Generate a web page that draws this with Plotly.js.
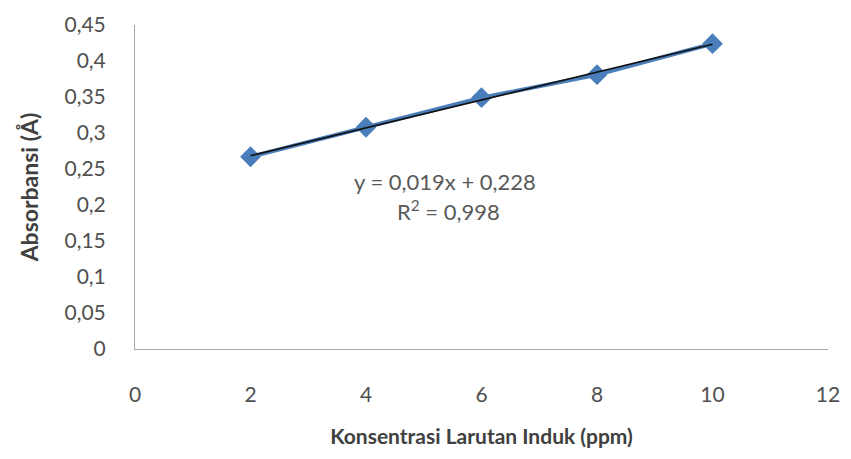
<!DOCTYPE html>
<html>
<head>
<meta charset="utf-8">
<script src="https://cdn.plot.ly/plotly-3.0.1.min.js"></script>
<style>html,body{margin:0;padding:0;background:#fff;}#chart{width:851px;height:459px;}</style>
</head>
<body>
<div id="chart"></div>
<script>
const concentrations = [2, 4, 6, 8, 10];
const absorbances = [0.267, 0.308, 0.349, 0.381, 0.424];
const xTicks = [0, 2, 4, 6, 8, 10, 12];
const yTicks = [0, 0.05, 0.1, 0.15, 0.2, 0.25, 0.3, 0.35, 0.4, 0.45];
const equationText = "y = 0,019x + 0,228";
const r2Text = "R<sup>2</sup> = 0,998";

// least-squares trendline from the data
const n = concentrations.length;
const mx = concentrations.reduce((a,b)=>a+b,0)/n;
const my = absorbances.reduce((a,b)=>a+b,0)/n;
let sxy = 0, sxx = 0;
for (let i = 0; i < n; i++) { sxy += (concentrations[i]-mx)*(absorbances[i]-my); sxx += (concentrations[i]-mx)**2; }
const slope = sxy/sxx, intercept = my - slope*mx;
const trendX = [concentrations[0], concentrations[n-1]];
const trendY = trendX.map(x => slope*x + intercept);

const font = "Lato, 'Open Sans', sans-serif";
const data = [
  {x: concentrations, y: absorbances, type: 'scatter', mode: 'lines+markers',
   line: {color: '#4a7ebb', width: 4},
   marker: {symbol: 'diamond', size: 16, color: '#4a7ebb'}},
  {x: trendX, y: trendY, type: 'scatter', mode: 'lines',
   line: {color: '#111111', width: 1.6}}
];
const layout = {
  width: 851, height: 459,
  margin: {l: 135, r: 23, t: 25, b: 110},
  paper_bgcolor: '#fff', plot_bgcolor: '#fff',
  showlegend: false,
  separators: ',.',
  font: {family: font, color: '#595959', size: 16},
  xaxis: {range: [0, 12], tickvals: xTicks, showgrid: false, zeroline: false,
          showline: true, linecolor: '#a6a6a6', linewidth: 1, ticks: '',
          ticklabelstandoff: 27, tickfont: {size: 21, color: '#505050'},
          title: {text: 'Konsentrasi Larutan Induk (ppm)', font: {size: 21, color: '#404040', family: font, weight: 'bold'}, standoff: 24}},
  yaxis: {range: [0, 0.45], tickvals: yTicks, showgrid: false, zeroline: false,
          showline: true, linecolor: '#a6a6a6', linewidth: 1, ticks: '',
          ticklabelstandoff: 24, tickfont: {size: 21, color: '#505050'},
          title: {text: 'Absorbansi (Å)', font: {size: 23, color: '#404040', family: font, weight: 'bold'}, standoff: 19}},
  annotations: [
    {x: 5.37, y: 0.233, xref: 'x', yref: 'y', text: equationText, showarrow: false,
     font: {size: 22, color: '#595959', family: font}},
    {x: 5.42, y: 0.193, xref: 'x', yref: 'y', text: r2Text, showarrow: false,
     font: {size: 22, color: '#595959', family: font}}
  ]
};
Plotly.newPlot('chart', data, layout, {displayModeBar: false, staticPlot: true});
</script>
</body>
</html>
